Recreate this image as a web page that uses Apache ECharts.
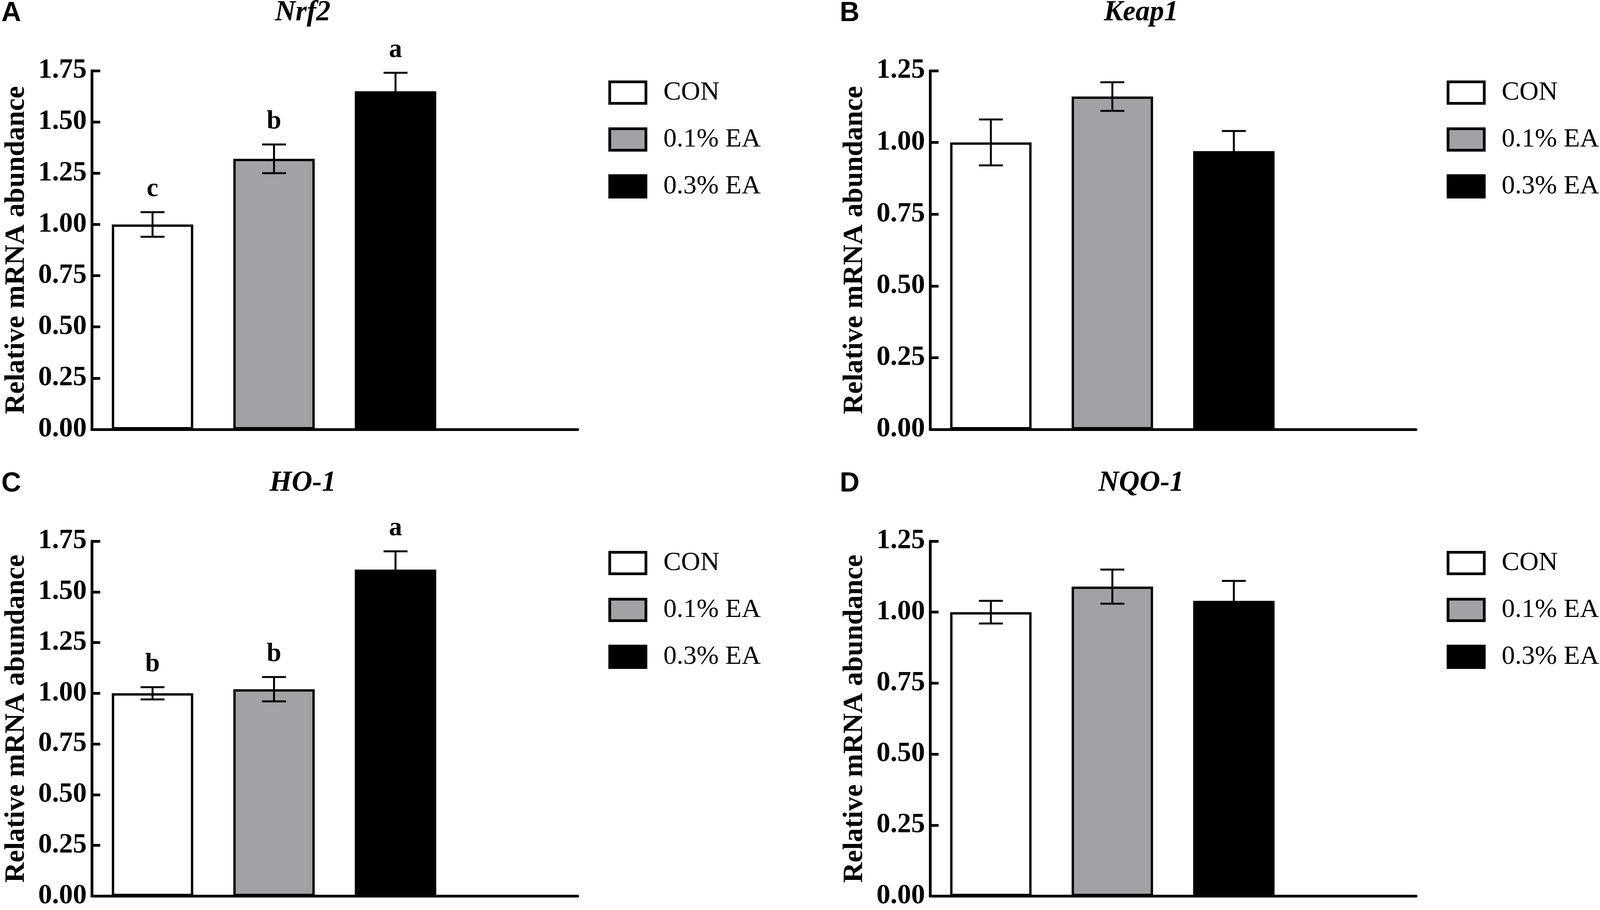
<!DOCTYPE html>
<html>
<head>
<meta charset="utf-8">
<style>
    html, body { margin: 0; padding: 0; background: #fff; overflow: hidden; }
    #echart { width: 100vw; height: 100vh; }
</style>
</head>
<body>
<div id="echart"></div>
<script src="https://cdn.jsdelivr.net/npm/echarts@6/dist/echarts.min.js"></script>
<script>
    // groups and read-off values (mean, error)
    var groups = ['CON', '0.1% EA', '0.3% EA'];
    var genes = ['Nrf2', 'Keap1', 'HO-1', 'NQO-1'];
    var panelTags = ['A', 'B', 'C', 'D'];

    var nrf2Mean = [1.00, 1.32, 1.65];
    var nrf2Err = [0.06, 0.07, 0.09];
    var nrf2Letters = ['c', 'b', 'a'];

    var keap1Mean = [1.00, 1.16, 0.97];
    var keap1Err = [0.08, 0.05, 0.07];
    var keap1Letters = ['', '', ''];

    var ho1Mean = [1.00, 1.02, 1.61];
    var ho1Err = [0.03, 0.06, 0.09];
    var ho1Letters = ['b', 'b', 'a'];

    var nqo1Mean = [1.00, 1.09, 1.04];
    var nqo1Err = [0.04, 0.06, 0.07];
    var nqo1Letters = ['', '', ''];

    var yMax = [1.75, 1.25, 1.75, 1.25];
    var yStep = 0.25;

    var colors = ['#ffffff', '#a2a2a6', '#000000'];
    var serif = 'Liberation Serif';

    var app = echarts.init(document.getElementById('echart'));
    // layout was measured on a 4550x2329 figure; scale to the real viewport
    var sx = app.getWidth() / 4550;
    var sy = app.getHeight() / 2329;

    var panels = [
        {mean: nrf2Mean, err: nrf2Err, letters: nrf2Letters, left: 261, top: 181},
        {mean: keap1Mean, err: keap1Err, letters: keap1Letters, left: 2645, top: 181},
        {mean: ho1Mean, err: ho1Err, letters: ho1Letters, left: 261, top: 1385},
        {mean: nqo1Mean, err: nqo1Err, letters: nqo1Letters, left: 2645, top: 1385}
    ];
    var gridW = 1382, gridH = 918;

    var grid = [], xAxis = [], yAxis = [], series = [], title = [], legend = [];

    panels.forEach(function (p, i) {
        grid.push({left: p.left * sx, top: p.top * sy, width: gridW * sx, height: gridH * sy});

        xAxis.push({
            type: 'category',
            gridIndex: i,
            data: groups.concat(['']),
            axisLine: {lineStyle: {color: '#000', width: 7}},
            axisTick: {show: false},
            axisLabel: {show: false},
            splitLine: {show: false}
        });

        yAxis.push({
            type: 'value',
            gridIndex: i,
            min: 0,
            max: yMax[i],
            interval: yStep,
            name: 'Relative mRNA abundance',
            nameLocation: 'middle',
            nameRotate: 90,
            nameGap: 157 * sx / 0.9,
            nameTextStyle: {fontFamily: serif, fontWeight: 'bold', fontSize: 72, color: '#000'},
            axisLine: {show: true, lineStyle: {color: '#000', width: 7}},
            axisTick: {show: true, inside: true, length: 24 * sx, lineStyle: {color: '#000', width: 7}},
            axisLabel: {
                margin: 13,
                fontFamily: serif, fontWeight: 'bold', fontSize: 71, color: '#000',
                formatter: function (v) { return v.toFixed(2); }
            },
            splitLine: {show: false}
        });

        groups.forEach(function (g, k) {
            var d = ['-', '-', '-', '-'];
            d[k] = p.mean[k];
            series.push({
                type: 'bar',
                name: g,
                xAxisIndex: i,
                yAxisIndex: i,
                stack: 'p' + i,
                barWidth: '67%',
                data: d,
                itemStyle: {color: colors[k], borderColor: '#000', borderWidth: 6},
                silent: true
            });
        });

        // error bars + significance letters
        var ebData = p.mean.map(function (m, k) { return [k, m, p.err[k]]; });
        series.push({
            type: 'custom',
            xAxisIndex: i,
            yAxisIndex: i,
            z: 5,
            silent: true,
            data: ebData,
            renderItem: function (params, api) {
                var x = api.value(0), m = api.value(1), e = api.value(2);
                var hi = api.coord([x, m + e]);
                var lo = api.coord([x, m - e]);
                var half = 34 * sx;
                var ls = {stroke: '#000', lineWidth: 5};
                var children = [
                    {type: 'line', shape: {x1: hi[0], y1: hi[1], x2: lo[0], y2: lo[1]}, style: ls},
                    {type: 'line', shape: {x1: hi[0] - half, y1: hi[1], x2: hi[0] + half, y2: hi[1]}, style: ls},
                    {type: 'line', shape: {x1: lo[0] - half, y1: lo[1], x2: lo[0] + half, y2: lo[1]}, style: ls}
                ];
                var letter = p.letters[params.dataIndex];
                if (letter) {
                    children.push({
                        type: 'text',
                        style: {
                            text: letter, x: hi[0], y: hi[1] - 58 * sy,
                            fill: '#000', align: 'center', verticalAlign: 'middle',
                            font: 'bold 67px "Liberation Serif"'
                        }
                    });
                }
                return {type: 'group', children: children};
            }
        });

        title.push({
            text: genes[i],
            left: (p.left + 600) * sx,
            top: (p.top - 184) * sy,
            padding: 0,
            textAlign: 'center',
            textStyle: {fontFamily: serif, fontStyle: 'italic', fontWeight: 'bold', fontSize: 73, color: '#000'}
        });
        title.push({
            text: panelTags[i],
            left: (p.left - 257) * sx,
            top: (p.top - 181) * sy,
            padding: 0,
            textStyle: {fontFamily: 'Liberation Sans', fontWeight: 'bold', fontSize: 70, color: '#000'}
        });

        legend.push({
            data: groups,
            orient: 'vertical',
            left: (p.left + 1469) * sx,
            top: (p.top + 22) * sy,
            padding: 0,
            itemWidth: 103 * sx,
            itemHeight: 55 * sy,
            itemGap: 52 * sy,
            icon: 'rect',
            itemStyle: {borderColor: '#000', borderWidth: 7},
            selectedMode: false,
            textStyle: {fontFamily: serif, fontSize: 68, color: '#000', padding: [0, 0, 0, 44 * sx]}
        });
    });

    var option = {
        animation: false,
        backgroundColor: '#fff',
        title: title,
        legend: legend,
        grid: grid,
        xAxis: xAxis,
        yAxis: yAxis,
        series: series
    };
    app.setOption(option);
</script>
</body>
</html>
